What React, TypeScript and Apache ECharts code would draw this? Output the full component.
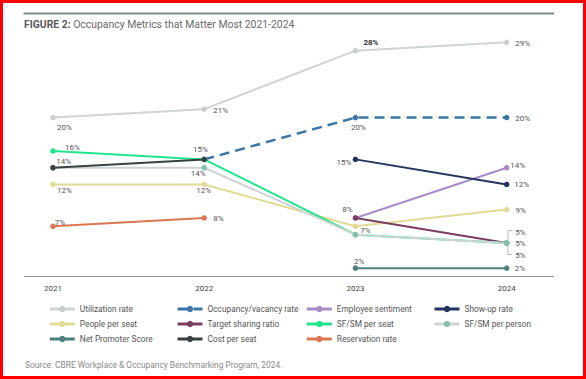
import React, { useEffect, useRef } from 'react';
import * as echarts from 'echarts';

const years = ['2021', '2022', '2023', '2024'];
const utilization = [20, 21, 28, 29];
const occupancy = [null, 15, 20, 20];
const sentiment = [null, null, 8, 14];
const showUp = [null, null, 15, 12];
const peoplePerSeat = [12, 12, 7, 9];
const targetSharing = [null, null, 8, 5];
const sfsmSeat = [16, 15, 6, 5];
const sfsmPerson = [14, 14, 6, 5];
const netPromoter = [null, null, 2, 2];
const costPerSeat = [14, 15, null, null];
const reservation = [7, 8, null, null];

// label offsets (label centre relative to point), null = no label
type Off = [number, number] | null;
const labelOffsets: Record<string, Off[]> = {
  'Utilization rate': [[11.5, 10], [16.5, 1.5], [15.5, -8.5], [16, 1]],
  'Occupancy/vacancy rate': [null, null, [3, 10], [16, 0.5]],
  'Employee sentiment': [null, null, null, [11, -2]],
  'Show-up rate': [null, null, [-11.5, 3], [15, 0.5]],
  'People per seat': [[11.5, 6.5], [-0.5, 6.5], [10, 4.5], [14, 0.5]],
  'Target sharing ratio': [null, null, [-8, -8], [13.6, -11]],
  'SF/SM per seat': [[19.5, -4], null, null, [13.6, 0.8]],
  'SF/SM per person': [null, [-6, 5.5], null, [13.6, 12]],
  'Net Promoter Score': [null, null, [3.7, -6.6], [13.3, 0.4]],
  'Cost per seat': [[10.7, -6], [-3.7, -9.4], null, null],
  'Reservation rate': [[7, -4], [14.3, 1], null, null],
};

const FONT = 'Roboto';

function mk(name: string, data: (number | null)[], lineColor: string, markerColor: string, extra: any = {}) {
  const offs = labelOffsets[name];
  return {
    type: 'line',
    name,
    symbol: 'circle',
    symbolSize: 5.5,
    lineStyle: { color: lineColor, width: 2, ...(extra.lineStyle || {}) },
    itemStyle: { color: markerColor },
    emphasis: { disabled: true },
    data: data.map((v, i) => {
      if (v == null) return null;
      const o = offs[i];
      const item: any = { value: v };
      if (extra.hideSymbolAt === i) item.symbol = 'none';
      if (o) {
        const bold = name === 'Utilization rate' && i === 2;
        item.label = {
          show: true,
          position: 'inside',
          offset: o,
          formatter: '{c}%',
          fontSize: 8,
          fontFamily: FONT,
          color: bold ? '#333' : '#555',
          fontWeight: bold ? 'bold' : 'normal',
          textBorderWidth: 0,
        };
      }
      return item;
    }),
  };
}

const series = [
  mk('Utilization rate', utilization, '#cfd4d4', '#c9cfcf'),
  mk('Occupancy/vacancy rate', occupancy, '#3b76a6', '#3b76a6', { lineStyle: { type: [10, 6], width: 2.5 }, hideSymbolAt: 1 }),
  mk('Employee sentiment', sentiment, '#a98bc8', '#a98bc8'),
  mk('Show-up rate', showUp, '#1f3560', '#1f3560'),
  mk('People per seat', peoplePerSeat, '#e2da97', '#e2da97'),
  mk('Target sharing ratio', targetSharing, '#7a3d60', '#7a3d60'),
  mk('SF/SM per seat', sfsmSeat, '#20e68b', '#20e68b'),
  mk('SF/SM per person', sfsmPerson, '#cdd3d2', '#86bfae'),
  mk('Net Promoter Score', netPromoter, '#4d7f7e', '#4d7f7e'),
  mk('Cost per seat', costPerSeat, '#3a4144', '#3a4144'),
  mk('Reservation rate', reservation, '#da7753', '#da7753'),
];

const legendCols = [
  ['Utilization rate', 'People per seat', 'Net Promoter Score'],
  ['Occupancy/vacancy rate', 'Target sharing ratio', 'Cost per seat'],
  ['Employee sentiment', 'SF/SM per seat', 'Reservation rate'],
  ['Show-up rate', 'SF/SM per person'],
];
const legendLefts = [48.3, 176, 305.3, 433];

export default function App() {
  const ref = useRef<HTMLDivElement>(null);
  useEffect(() => {
    const chart = echarts.init(ref.current!, null, { renderer: 'svg' });
    const option: any = {
      animation: false,
      title: [
        {
          left: 24,
          top: 19.5,
          padding: 0,
          text: '{b|FIGURE 2:} Occupancy Metrics that Matter Most 2021-2024',
          textStyle: {
            fontSize: 10.4,
            fontWeight: 'normal',
            color: '#6a6a6a',
            fontFamily: FONT,
            rich: { b: { fontSize: 10.4, fontWeight: 'bold', color: '#5a5a5a', fontFamily: FONT } },
          },
        },
        {
          left: 25,
          top: 360.5,
          padding: 0,
          text: 'Source: CBRE Workplace & Occupancy Benchmarking Program, 2024.',
          textStyle: { fontSize: 8.4, fontWeight: 'normal', color: '#8a8a8a', fontFamily: FONT },
        },
      ],
      grid: { left: 53, right: 79.3, top: 33.9, bottom: 102.5 },
      xAxis: {
        type: 'category',
        data: years,
        boundaryGap: false,
        axisLine: { show: false },
        axisTick: { show: false },
        axisLabel: { fontSize: 8, color: '#444', fontFamily: FONT, margin: 8 },
      },
      yAxis: { type: 'value', min: 1, max: 30, show: false },
      legend: legendCols.map((names, i) => ({
        orient: 'vertical',
        left: legendLefts[i],
        top: 305,
        padding: 0,
        itemWidth: 25,
        itemHeight: 8,
        itemGap: 7,
        selectedMode: false,
        data: names,
        lineStyle: { width: 3 },
        textStyle: { fontSize: 8.3, color: '#555', fontFamily: FONT },
      })),
      series,
      graphic: [
        { id: 'border', type: 'rect', shape: { x: 1.5, y: 1.5, width: 583, height: 376 }, style: { fill: 'none', stroke: '#ff0000', lineWidth: 3 }, silent: true },
        { id: 'topRule', type: 'line', shape: { x1: 23.5, y1: 13.5, x2: 554, y2: 13.5 }, style: { stroke: '#7d8b8b', lineWidth: 2 }, silent: true },
        { id: 'axisRule', type: 'line', shape: { x1: 24, y1: 276.5, x2: 554, y2: 276.5 }, style: { stroke: '#8a9494', lineWidth: 1.2 }, silent: true },
      ],
    };
    chart.setOption(option);
    const p = chart.convertToPixel({ xAxisIndex: 0, yAxisIndex: 0 }, [3, 5]) as number[];
    const bx = p[0] + 1.2;
    chart.setOption({
      graphic: [
        { id: 'bracketTop', type: 'polyline', shape: { points: [[bx + 4.5, p[1] - 12.5], [bx, p[1] - 12.5], [bx, p[1] - 3.5]] }, style: { fill: 'none', stroke: '#aaaaaa', lineWidth: 0.8 }, silent: true },
        { id: 'bracketBot', type: 'polyline', shape: { points: [[bx, p[1] + 3], [bx, p[1] + 11.5], [bx + 4.5, p[1] + 11.5]] }, style: { fill: 'none', stroke: '#aaaaaa', lineWidth: 0.8 }, silent: true },
      ],
    });
    return () => chart.dispose();
  }, []);
  return <div ref={ref} style={{ position: 'absolute', left: 0, top: 0, width: 586, height: 379 }} />;
}
